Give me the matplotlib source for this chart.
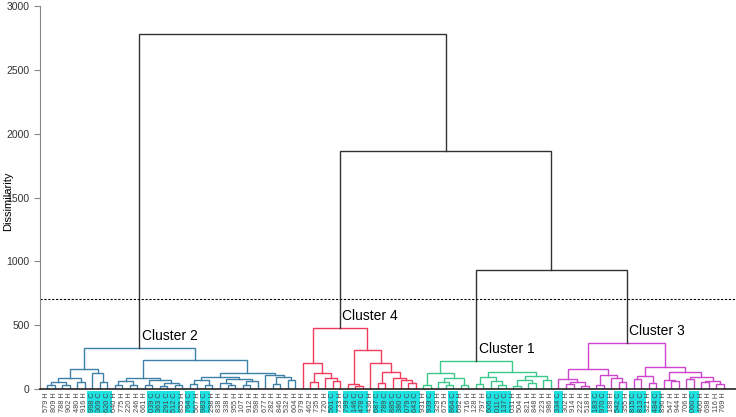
import matplotlib
matplotlib.use("Agg")
import matplotlib.pyplot as plt

plt.rcParams['font.family'] = ['Liberation Sans', 'DejaVu Sans']

# Dendrogram data: (left, right, height) nodes, leaves are sample labels
blue_tree = (
    ((((("579 H", "809 H", 30), ("788 H", "902 H", 30), 55), ("480 H", "916 H", 55), 86),
      ("998 C", ("309 C", "620 C", 55), 125), 157)),
    (((("640 H", "775 H", 30), ("220 H", "246 H", 35), 60),
      (("661 H", "039 C", 30), (("363 C", "291 C", 25), ("512 C", "855 H", 35), 45), 70), 86),
     ((((("764 C", "567 H", 40), ("983 C", "298 H", 30), 70),
        (("838 H", ("338 H", "955 H", 30), 45), (("107 H", "912 H", 35), "598 H", 60), 80), 94)),
      ("677 H", (("282 H", "846 H", 40), ("532 H", "604 H", 70), 95), 110), 125), 227),
    321)

red_tree = (
    ("979 H", (("462 H", "735 H", 55), ("720 H", ("561 C", "733 H", 60), 86), 125), 204),
    (("799 C", ("146 C", "478 C", 20), 40),
     ("436 H", (("687 C", "789 C", 47), ("885 C", ("380 C", ("079 C", "643 C", 47), 70), 86), 133), 204),
     305),
    478)

green_tree = (
    (("931 H", "939 C", 30), (("329 H", ("675 H", "864 C", 35), 55), ("692 H", "716 H", 30), 86), 125),
    ((("128 H", "797 H", 40), ("606 C", ("011 C", "137 C", 30), 60), 94),
     ((("031 H", "504 H", 25), ("821 H", "848 H", 50), 70), ("223 H", "986 H", 70), 100), 130),
    219)

magenta_tree = (
    (("334 C", (("302 H", "914 H", 40), ("222 H", "518 H", 25), 55), 78),
     (("183 C", "970 C", 30), ("188 H", ("542 C", "355 H", 55), 86), 110), 157),
    ((("815 C", "813 C", 75), ("321 H", "484 C", 47), 100),
     (("896 H", ("547 H", "944 H", 60), 70),
      (("706 H", "060 C", 80), (("400 H", "698 H", 55), ("116 H", "769 H", 40), 60), 94), 133), 172),
    360)

h_green_magenta = 932
h_rest = 1864
h_root = 2780
cut_level = 705

cluster_names = ["Cluster 2", "Cluster 4", "Cluster 1", "Cluster 3"]
cluster_colors = ["#3F80A8", "#F23A5C", "#3DC98C", "#CC45CC"]
cluster_trees = [blue_tree, red_tree, green_tree, magenta_tree]

root = (blue_tree, (red_tree, (green_tree, magenta_tree, h_green_magenta), h_rest), h_root)


def leaves(node):
    if isinstance(node, str):
        return [node]
    return leaves(node[0]) + leaves(node[1])


labels = leaves(root)
pos = {lab: i for i, lab in enumerate(labels)}
color_of = {id(t): c for t, c in zip(cluster_trees, cluster_colors)}
top_of = {}

fig = plt.figure(figsize=(7.36, 4.17), dpi=100)
ax = fig.add_axes([40 / 736, 28 / 417, 696 / 736, 383 / 417])


def draw(node, color):
    if isinstance(node, str):
        return pos[node], 0
    color = color_of.get(id(node), color)
    lx, lh = draw(node[0], color)
    rx, rh = draw(node[1], color)
    h = node[2]
    ax.plot([lx, lx, rx, rx], [lh, h, h, rh], color=color, lw=1, solid_joinstyle='miter')
    x = (lx + rx) / 2
    top_of[id(node)] = (x, h)
    return x, h


draw(root, "#333333")

ax.axhline(cut_level, color="black", lw=0.8, ls=(0, (2, 1.5)))

# cluster names next to the cluster stems
for t, name in zip(cluster_trees, cluster_names):
    x, h = top_of[id(t)]
    ax.text(x + 0.35, h + 40, name, fontsize=10, ha="left", va="bottom", color="black")

ax.set_xlim(-0.93, 91.6)
ax.set_ylim(0, 3000)
ax.set_yticks(range(0, 3001, 500))
ax.set_ylabel("Dissimilarity", fontsize=8)
ax.yaxis.set_label_coords(-0.038, 0.49)
ax.tick_params(axis="y", labelsize=7.5, length=4, color="#888888", labelcolor="#333333", width=0.8)

ax.set_xticks(range(len(labels)))
ax.set_xticklabels(labels, rotation=90, fontsize=5.3, color="#444444")
ax.tick_params(axis="x", length=0, pad=2.5)
for tl in ax.get_xticklabels():
    if tl.get_text().endswith("C"):
        tl.set_bbox(dict(boxstyle="square,pad=0.18", fc="#1FE3E3", ec="none"))

for s in ["top", "right"]:
    ax.spines[s].set_visible(False)
ax.spines["left"].set_color("#888888")
ax.spines["bottom"].set_color("#222222")
ax.spines["bottom"].set_linewidth(1.2)

fig.savefig("out.png", dpi=100)
